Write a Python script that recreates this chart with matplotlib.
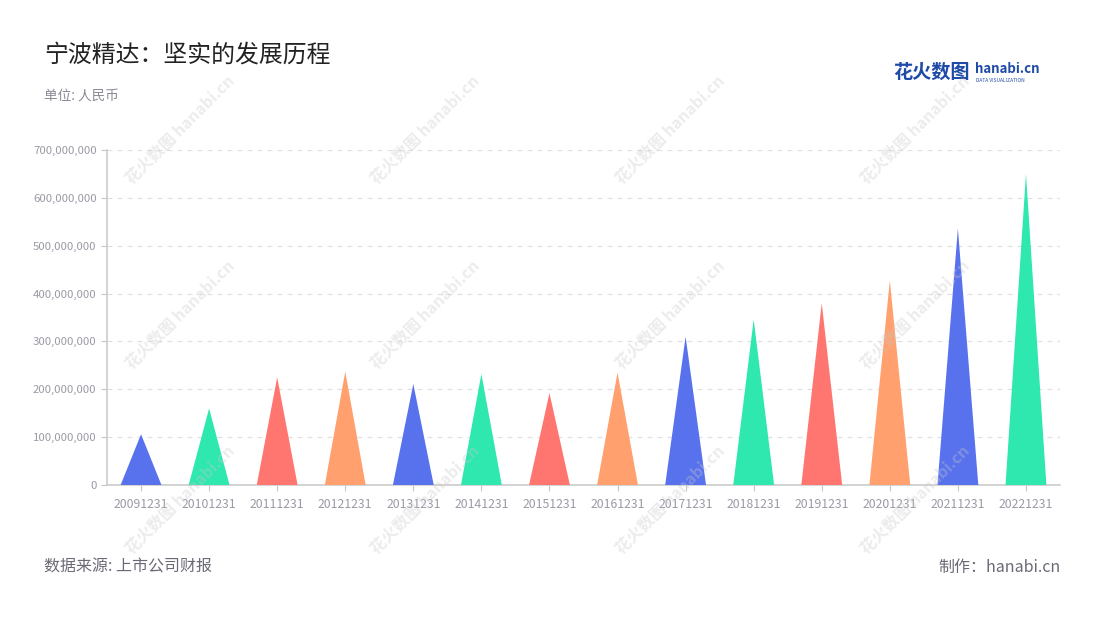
import matplotlib
matplotlib.use('Agg')
import matplotlib.pyplot as plt
from matplotlib.ticker import FuncFormatter

plt.rcParams['font.family'] = ['Noto Sans CJK SC', 'DejaVu Sans']

dates = ['20091231', '20101231', '20111231', '20121231', '20131231', '20141231', '20151231',
         '20161231', '20171231', '20181231', '20191231', '20201231', '20211231', '20221231']
values = [106e6, 160e6, 225e6, 237e6, 211e6, 232e6, 192e6,
          235e6, 310e6, 346e6, 380e6, 427e6, 536e6, 650e6]
palette = ['#5872ee', '#2ee8b0', '#ff7570', '#ffa06e']

fig = plt.figure(figsize=(11, 6.2), dpi=100)
ax = fig.add_axes([107 / 1100, 135 / 620, 953 / 1100, 335 / 620])

# faint watermarks
for wx in [180, 425, 670, 915]:
    for wy in [130, 315, 500]:
        fig.text(wx / 1100, 1 - wy / 620, '花火数图 hanabi.cn', rotation=45, fontsize=11.5,
                 color='#c8c8c8', alpha=0.35, ha='center', va='center', fontweight='bold', zorder=5)

half = 0.3
for i, v in enumerate(values):
    ax.fill([i - half, i, i + half], [0, v, 0], color=palette[i % 4], lw=0, zorder=3)

ax.set_xlim(-0.5, len(dates) - 0.5)
ax.set_ylim(0, 700e6)
ax.set_yticks([k * 100e6 for k in range(8)])
ax.yaxis.set_major_formatter(FuncFormatter(lambda v, p: f'{int(v):,}'))
ax.set_xticks(range(len(dates)))
ax.set_xticklabels(dates)
ax.tick_params(axis='both', colors='#c8c8c8', labelcolor='#9a9aa6', labelsize=8.5, length=4)
ax.tick_params(axis='x', labelsize=8.8, pad=5)
ax.tick_params(axis='y', labelsize=8.2)
ax.grid(axis='y', color='#e0e0e0', linestyle=(0, (4, 4)), lw=0.9)
ax.set_axisbelow(True)
for s in ['top', 'right']:
    ax.spines[s].set_visible(False)
for s in ['left', 'bottom']:
    ax.spines[s].set_color('#cccccc')
    ax.spines[s].set_linewidth(1.2)
ax.patch.set_alpha(0)

fig.text(44 / 1100, 1 - 55 / 620, '宁波精达：坚实的发展历程', fontsize=17.2, color='#222222', va='center')
fig.text(44 / 1100, 1 - 96 / 620, '单位: 人民币', fontsize=9.8, color='#8a8a96', va='center')
fig.text(44 / 1100, 1 - 567 / 620, '数据来源: 上市公司财报', fontsize=11.5, color='#6a6a76', va='center')
fig.text(1061 / 1100, 1 - 567 / 620, '制作：hanabi.cn', fontsize=11.5, color='#6a6a76', va='center', ha='right')

# logo
fig.text(893 / 1100, 1 - 72 / 620, '花火数图', fontsize=13.8, color='#1e4aa8', va='center', fontweight='bold')
fig.text(975 / 1100, 1 - 69 / 620, 'hanabi.cn', fontsize=9.5, color='#1e4aa8', va='center', fontweight='bold')
fig.text(976 / 1100, 1 - 80 / 620, 'DATA VISUALIZATION', fontsize=3.5, color='#1e4aa8', va='center')

fig.savefig('out.png', dpi=100)
